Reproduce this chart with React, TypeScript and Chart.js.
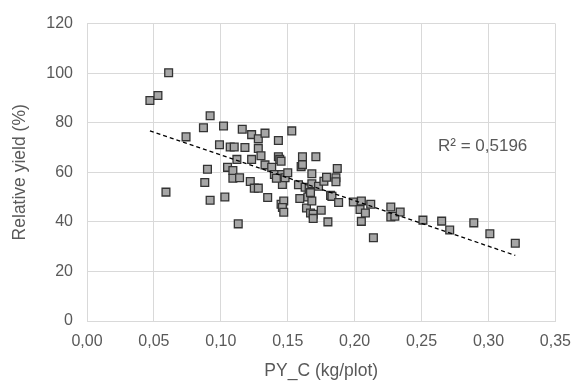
import { useEffect, useRef } from "react";
import { Chart, registerables } from "chart.js";

Chart.register(...registerables);

// PY_C (kg/plot)
const pyC = [
  0.047, 0.053, 0.061, 0.074, 0.059, 0.087, 0.092, 0.090, 0.088, 0.092,
  0.099, 0.102, 0.103, 0.105, 0.107, 0.109, 0.109, 0.110, 0.112, 0.113,
  0.114, 0.116, 0.118, 0.123, 0.123, 0.122, 0.125, 0.128, 0.128, 0.128,
  0.130, 0.133, 0.133, 0.135, 0.138, 0.140, 0.143, 0.143, 0.144, 0.145,
  0.1455, 0.146, 0.145, 0.147, 0.146, 0.147, 0.148, 0.150, 0.153, 0.158,
  0.159, 0.160, 0.161, 0.161, 0.163, 0.164, 0.165, 0.166, 0.167, 0.167,
  0.168, 0.168, 0.168, 0.169, 0.169, 0.171, 0.173, 0.175, 0.177, 0.179,
  0.180, 0.182, 0.183, 0.186, 0.186, 0.187, 0.188, 0.199, 0.204, 0.205,
  0.205, 0.208, 0.212, 0.214, 0.227, 0.227, 0.230, 0.234, 0.251, 0.265,
  0.271, 0.289, 0.301, 0.320, 0.1415,
];

// Relative yield (%)
const relativeYield = [
  89.0, 91.0, 100.2, 74.3, 52.0, 78.0, 82.8, 61.2, 55.9, 48.7,
  71.1, 78.7, 50.0, 62.0, 70.2, 57.6, 60.7, 70.2, 65.2, 39.2,
  57.8, 77.4, 70.0, 75.2, 65.2, 56.3, 53.6, 53.6, 73.5, 69.6,
  66.7, 75.8, 63.0, 49.8, 62.0, 59.1, 72.8, 66.3, 65.2, 64.5,
  59.1, 55.1, 47.1, 48.4, 45.8, 43.9, 57.8, 59.8, 76.7, 55.0,
  49.4, 62.3, 66.3, 63.1, 54.0, 45.6, 50.0, 53.4, 51.8, 43.6,
  59.4, 55.4, 48.4, 43.1, 41.4, 66.3, 54.4, 44.7, 56.4, 58.0,
  40.0, 50.7, 50.3, 57.8, 56.2, 61.5, 47.8, 48.0, 45.0, 48.4,
  40.2, 43.6, 47.1, 33.6, 46.0, 42.0, 42.3, 44.0, 40.7, 40.3,
  36.7, 39.6, 35.2, 31.4, 57.6,
];

const xTickValues = [0, 0.05, 0.1, 0.15, 0.2, 0.25, 0.3, 0.35];
const yTickValues = [0, 20, 40, 60, 80, 100, 120];
const xTitle = "PY_C (kg/plot)";
const yTitle = "Relative yield (%)";
const r2Label = "R² = 0,5196";

const FONT = "'Liberation Sans', Arial, sans-serif";

function linearFit(xs: number[], ys: number[]) {
  const n = xs.length;
  const mx = xs.reduce((a, b) => a + b, 0) / n;
  const my = ys.reduce((a, b) => a + b, 0) / n;
  let sxy = 0;
  let sxx = 0;
  for (let i = 0; i < n; i++) {
    sxy += (xs[i] - mx) * (ys[i] - my);
    sxx += (xs[i] - mx) * (xs[i] - mx);
  }
  const slope = sxy / sxx;
  return { slope, intercept: my - slope * mx };
}

export default function App() {
  const ref = useRef<HTMLCanvasElement | null>(null);

  useEffect(() => {
    if (!ref.current) return;
    const points = pyC.map((x, i) => ({ x, y: relativeYield[i] }));
    const fit = linearFit(pyC, relativeYield);
    const xMin = Math.min(...pyC);
    const xMax = Math.max(...pyC);
    const trend = [
      { x: xMin, y: fit.intercept + fit.slope * xMin },
      { x: xMax, y: fit.intercept + fit.slope * xMax },
    ];

    const r2Plugin = {
      id: "r2label",
      afterDatasetsDraw(chart: any) {
        const { ctx, chartArea } = chart;
        ctx.save();
        ctx.font = `17px ${FONT}`;
        ctx.fillStyle = "#595959";
        ctx.textAlign = "left";
        ctx.textBaseline = "middle";
        ctx.fillText(r2Label, chartArea.left + 351, chartArea.top + 123);
        ctx.restore();
      },
    };

    const chart = new Chart(ref.current, {
      type: "scatter",
      data: {
        datasets: [
          {
            type: "line",
            data: trend,
            borderColor: "#000000",
            borderWidth: 1.3,
            borderDash: [4, 3],
            pointRadius: 0,
            fill: false,
          } as any,
          {
            data: points,
            pointStyle: "rect",
            pointRadius: 5.5,
            backgroundColor: "#a6a6a6",
            borderColor: "#333333",
            borderWidth: 1.3,
          },
        ],
      },
      options: {
        animation: false,
        responsive: false,
        layout: { padding: { left: 0, right: 19, top: 22, bottom: 0 } },
        plugins: {
          legend: { display: false },
          tooltip: { enabled: false },
        },
        scales: {
          x: {
            type: "linear",
            min: 0,
            max: 0.35,
            afterBuildTicks: (s: any) => {
              s.ticks = xTickValues.map((v) => ({ value: v }));
            },
            afterFit: (s: any) => {
              s.height = 65;
            },
            ticks: {
              color: "#595959",
              font: { family: FONT, size: 16 },
              padding: 11,
              callback: (v: any) => Number(v).toFixed(2).replace(".", ","),
            },
            grid: { color: "#d9d9d9", lineWidth: 1, drawTicks: false },
            border: { color: "#d9d9d9" },
            title: {
              display: true,
              text: xTitle,
              color: "#595959",
              font: { family: FONT, size: 17.5 },
              padding: { top: 0, bottom: 4.5 },
            },
          },
          y: {
            type: "linear",
            min: 0,
            max: 120,
            afterBuildTicks: (s: any) => {
              s.ticks = yTickValues.map((v) => ({ value: v }));
            },
            afterFit: (s: any) => {
              s.width = 87;
            },
            ticks: {
              color: "#595959",
              font: { family: FONT, size: 16 },
              padding: 14,
            },
            grid: { color: "#d9d9d9", lineWidth: 1, drawTicks: false },
            border: { color: "#d9d9d9" },
            title: {
              display: true,
              text: yTitle,
              color: "#595959",
              font: { family: FONT, size: 17.5 },
              padding: { top: 9.5, bottom: 0 },
            },
          },
        },
      },
      plugins: [r2Plugin],
    });

    return () => chart.destroy();
  }, []);

  return (
    <div style={{ position: "absolute", left: 0, top: 0, width: 582, height: 386, background: "#ffffff" }}>
      <canvas ref={ref} width={582} height={386} style={{ display: "block" }} />
    </div>
  );
}
